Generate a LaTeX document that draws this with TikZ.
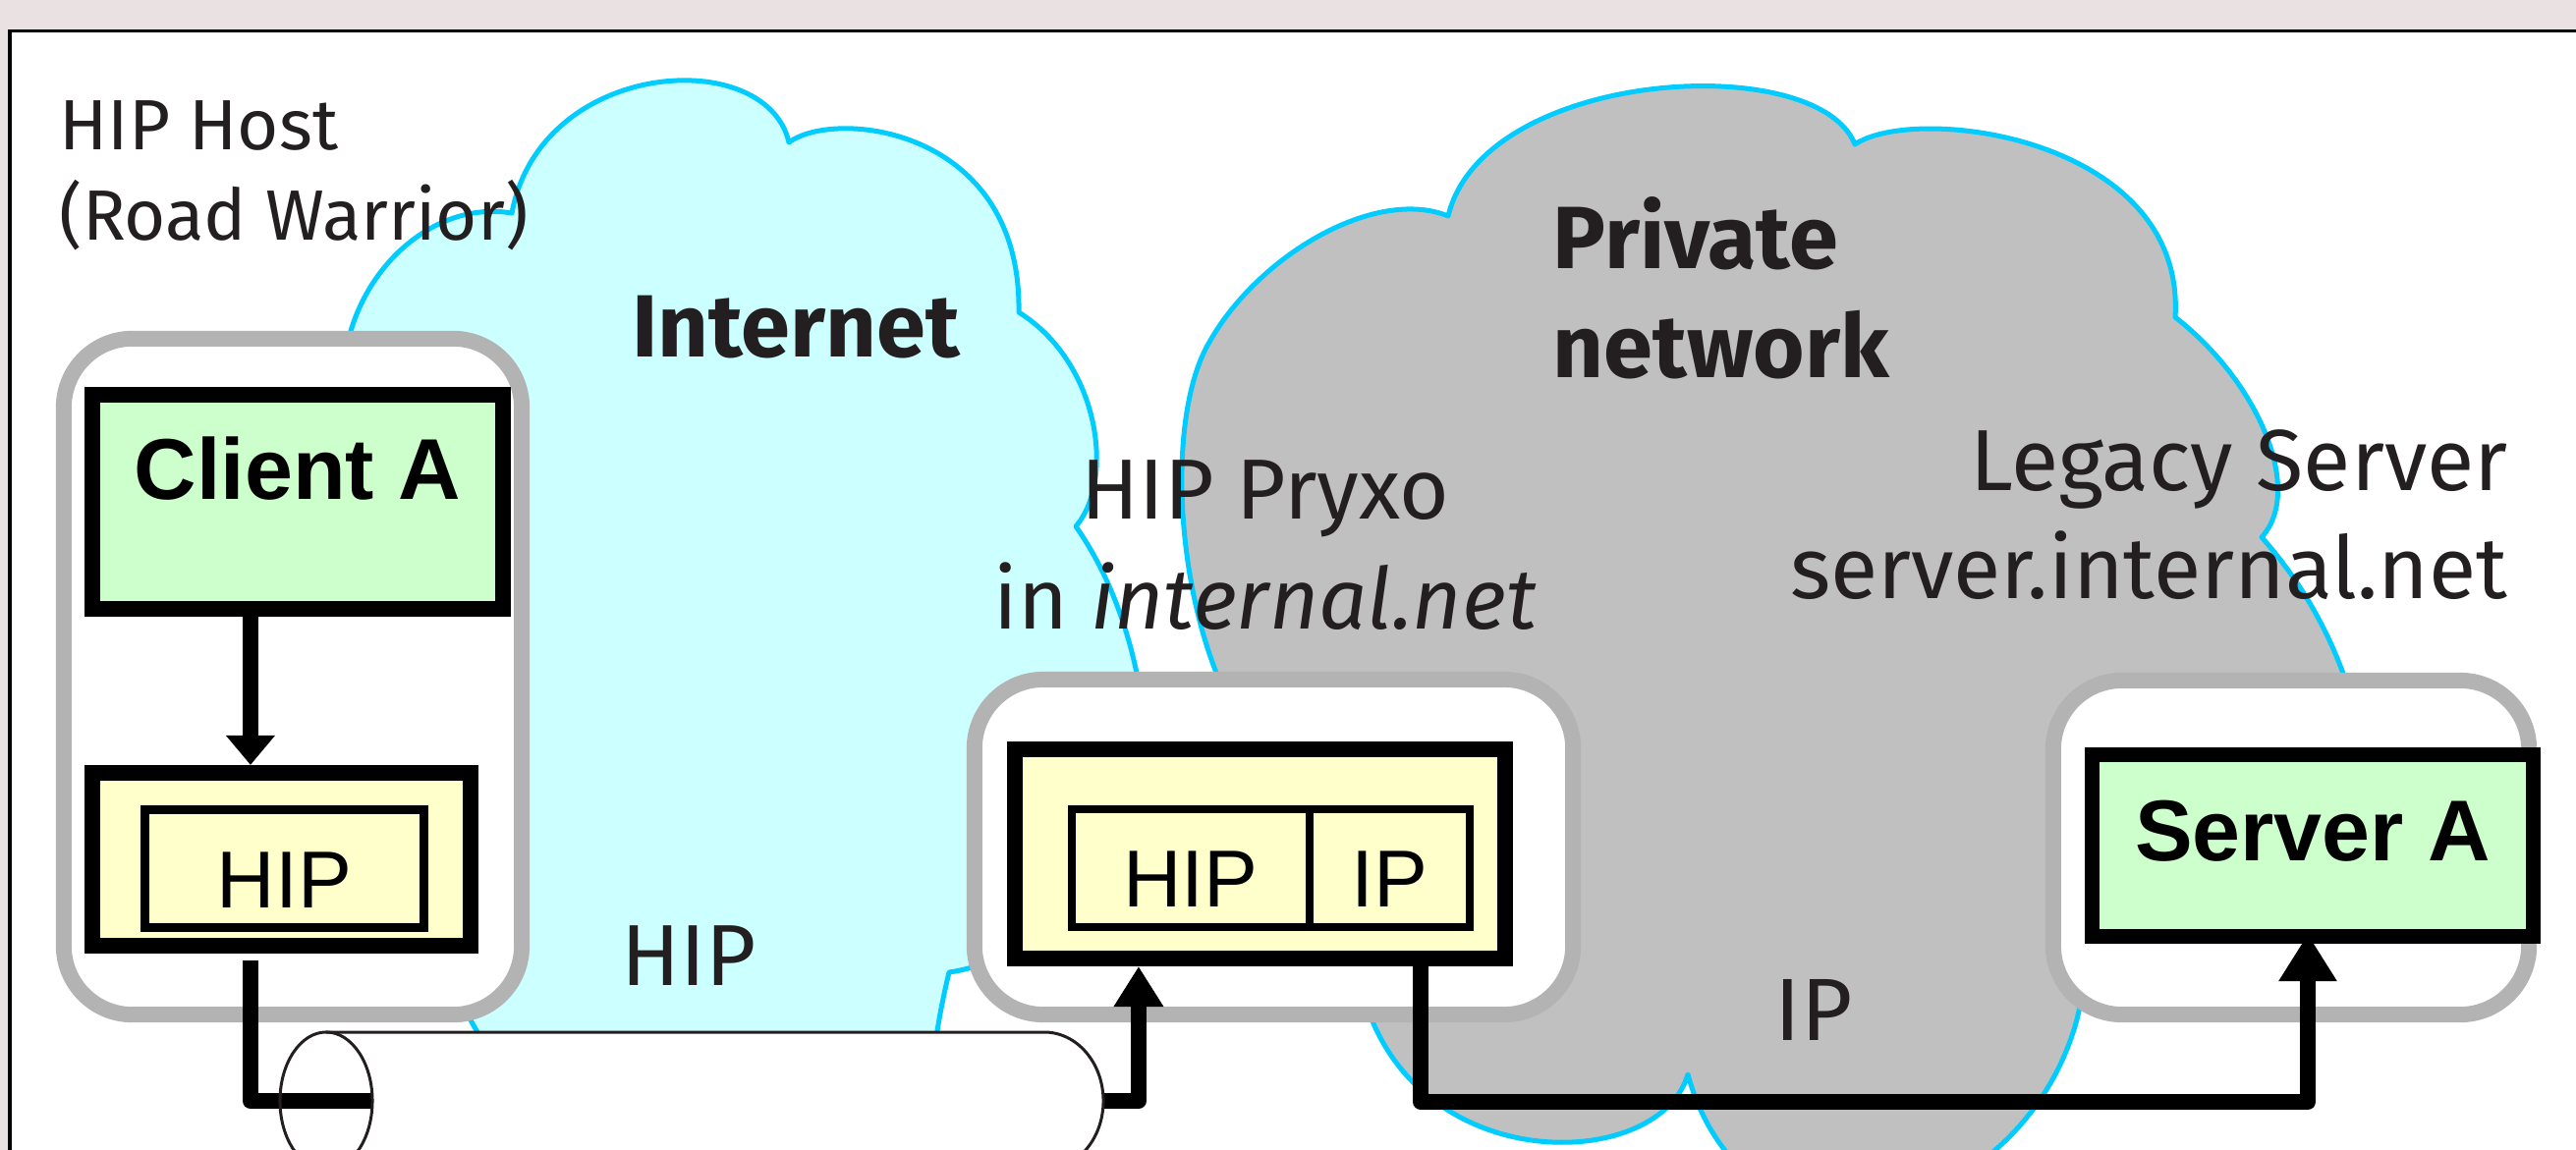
\documentclass[tikz,border=0pt]{standalone}
\usepackage{fontspec}
\setmainfont{Fira Sans}
\newfontfamily\arialfont{Liberation Sans}
\usetikzlibrary{arrows.meta}

\definecolor{bandpink}{HTML}{E9E1E2}
\definecolor{netcyan}{HTML}{CCFFFF}
\definecolor{netedge}{HTML}{00CCFF}
\definecolor{privgray}{HTML}{C0C0C0}
\definecolor{hostgray}{HTML}{B3B3B3}
\definecolor{appgreen}{HTML}{CCFFCC}
\definecolor{laycream}{HTML}{FFFFCC}
\definecolor{inkdark}{HTML}{231F20}

\begin{document}
\begin{tikzpicture}[x=0.01cm, y=-0.01cm]
        \tikzset{
            cloudline/.style={draw=netedge, line width=0.5mm, line join=round},
            hostbox/.style={draw=hostgray, fill=white, line width=1.6mm, rounded corners=7mm, inner sep=0pt, outer sep=0pt},
            appbox/.style={draw=black, fill=appgreen, line width=1.6mm, inner sep=0pt, font=\arialfont\bfseries\fontsize{25}{30}\selectfont},
            stackbox/.style={draw=black, fill=laycream, line width=1.6mm, inner sep=0pt},
            laybox/.style={draw=black, fill=laycream, line width=0.85mm, inner sep=0pt, text height=7.9mm, text depth=0mm, font=\arialfont\fontsize{23.4}{28}\selectfont},
            link/.style={line width=1.6mm, line join=round},
            arrowtip/.style 2 args={-{Triangle[length=#1, width=#2]}},
            pipeline/.style={draw=inkdark, line width=0.3mm},
            netlabel/.style={text=inkdark, inner sep=0pt},
        }
        \useasboundingbox (0,0) rectangle (2622,1171);
        \clip (0,0) rectangle (2622,1171);
        \fill[bandpink] (0,0) rectangle (2622,1171);
        \draw[line width=0.3mm, fill=white] (10,32) rectangle (2650,1200);
        % clouds
        \draw[cloudline, fill=netcyan] (492,1060) .. controls (440,990) and (320,600) .. (357,337)
            .. controls (380,260) and (450,205) .. (521,217)
            .. controls (550,60) and (780,45) .. (803,145)
            .. controls (850,110) and (1040,130) .. (1037,318)
            .. controls (1120,370) and (1135,490) .. (1095,536)
            .. controls (1140,600) and (1160,680) .. (1165,740)
            .. controls (1170,900) and (1040,980) .. (966,990)
            .. controls (960,1015) and (955,1040) .. (951,1070)
            -- (951,1180) -- (492,1180) -- cycle;
        \draw[cloudline, fill=privgray] (1240,690) .. controls (1195,580) and (1190,420) .. (1230,350)
            .. controls (1280,260) and (1400,190) .. (1474,220)
            .. controls (1510,70) and (1850,50) .. (1888,147)
            .. controls (1950,105) and (2225,140) .. (2214,323)
            .. controls (2300,390) and (2345,500) .. (2302,547)
            .. controls (2340,590) and (2370,640) .. (2390,700)
            .. controls (2420,850) and (2150,900) .. (2118,1020)
            .. controls (2105,1090) and (2060,1160) .. (1990,1200)
            .. controls (1930,1280) and (1760,1250) .. (1718,1094)
            .. controls (1690,1190) and (1460,1200) .. (1395,1035)
            -- (1300,900) -- cycle;
        % hosts
        \node[hostbox, minimum width=46.6mm, minimum height=68.8mm] (roadhost) at (298,689) {};
        \node[hostbox, minimum width=60.9mm, minimum height=34.1mm] (pryxohost) at (1296.5,862.5) {};
        \node[hostbox, minimum width=48.4mm, minimum height=34mm] (legacyhost) at (2332,863) {};
        \node[appbox, minimum width=41.8mm, minimum height=21.8mm, text height=5mm, text depth=5.4mm] (clienta) at (303,511) {Client A};
        \node[stackbox, minimum width=38.5mm, minimum height=17.6mm] (hipa) at (286.5,875) {};
        \node[laybox, minimum width=28.4mm, minimum height=12mm] (hipalayer) at (289.5,884.5) {HIP};
        \node[stackbox, minimum width=49.9mm, minimum height=21.3mm] (pryxo) at (1282.5,869.5) {};
        \node[laybox, minimum width=24.2mm, minimum height=12mm] (pryxohip) at (1212,884) {HIP};
        \node[laybox, minimum width=16.3mm, minimum height=12mm] (pryxoip) at (1414.5,884) {IP};
        \node[appbox, line width=1.5mm, minimum width=44.9mm, minimum height=18.5mm, text height=5mm, text depth=2mm] (servera) at (2354,861) {Server A};
        % links
        \coordinate (hiptunnel) at (700,1121);
        \coordinate (iptunnel) at (1900,1122);
        \draw[link, arrowtip={3mm}{4.8mm}] ([xshift=-4.8mm]clienta.south) -- ([xshift=-4.8mm]clienta.south |- hipa.north);
        \draw[link, arrowtip={4.1mm}{4.8mm}] ([xshift=-3.15mm, yshift=-0.7mm]hipa.south) |- (hiptunnel) -| ([xshift=-12.35mm]pryxo.south);
        \draw[link, arrowtip={4.8mm}{5.6mm}] ([xshift=16.35mm]pryxo.south) |- (iptunnel) -| ([xshift=-0.5mm, yshift=1mm]servera.south);
        % tunnel pipe
        \fill[white] (332,1051) -- (1063,1051) arc[start angle=90, end angle=-90, x radius=6mm, y radius=7mm]
            -- (332,1191) arc[start angle=-90, end angle=90, x radius=4.7mm, y radius=7mm] -- cycle;
        \draw[pipeline] (332,1051) -- (1063,1051) arc[start angle=90, end angle=-90, x radius=6mm, y radius=7mm] -- (332,1191);
        \draw[pipeline] (332,1121) ellipse [x radius=4.7mm, y radius=7mm];
        % labels (base = last line)
        \node[netlabel, font=\fontsize{20.6}{26.2}\selectfont, align=left, anchor=base west] (hiphost) at (60,245) {HIP Host\\(Road Warrior)};
        \node[netlabel, font=\bfseries\fontsize{25.6}{31}\selectfont, anchor=base] (internet) at (810,364) {Internet};
        \node[netlabel, font=\bfseries\fontsize{25.6}{31.6}\selectfont, align=left, anchor=base west] (private) at (1580,385) {Private\\network};
        \node[netlabel, font=\fontsize{24.7}{31.9}\selectfont, align=center, anchor=base] (pryxolabel) at (1288,641) {HIP Pryxo\\in \textit{internal.net}};
        \node[netlabel, font=\fontsize{25.1}{31.4}\selectfont, align=right, anchor=base east] (legacylabel) at (2553,610) {Legacy Server\\server.internal.net};
        \node[netlabel, font=\fontsize{25.1}{30}\selectfont, anchor=base] (hiplabel) at (701,1003) {HIP};
        \node[netlabel, font=\fontsize{25.6}{30}\selectfont, anchor=base] (iplabel) at (1846,1059) {IP};
\end{tikzpicture}
\end{document}
